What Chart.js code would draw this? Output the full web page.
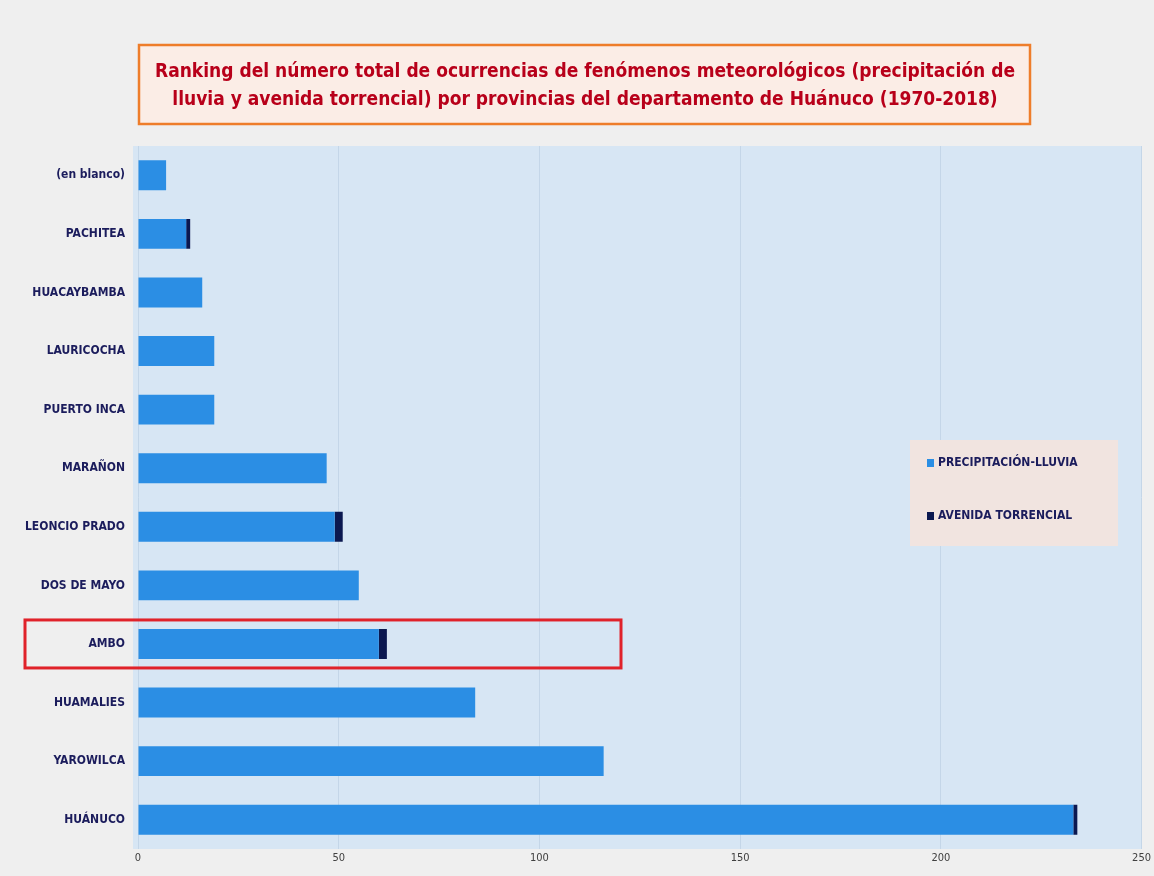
<!DOCTYPE html>
<html>
<head>
<meta charset="utf-8">
<script src="https://cdn.jsdelivr.net/npm/chart.js@4.4.0/dist/chart.umd.min.js"></script>
<style>
  html, body { margin: 0; padding: 0; background: #efefef; }
  #wrap { width: 1154px; height: 876px; }
</style>
</head>
<body>
<div id="wrap"><canvas id="ranking"></canvas></div>
<script>
// Provincias (de arriba hacia abajo) y número de ocurrencias por fenómeno
const provincias = ['(en blanco)', 'PACHITEA', 'HUACAYBAMBA', 'LAURICOCHA', 'PUERTO INCA', 'MARAÑON',
  'LEONCIO PRADO', 'DOS DE MAYO', 'AMBO', 'HUAMALIES', 'YAROWILCA', 'HUÁNUCO'];
const precipitacion = [7, 12, 16, 19, 19, 47, 49, 55, 60, 84, 116, 233];
const avenida = [0, 1, 0, 0, 0, 0, 2, 0, 2, 0, 0, 1];
const xTicks = [0, 50, 100, 150, 200, 250];
const titulo = ['Ranking del número total de ocurrencias de fenómenos meteorológicos (precipitación de',
  'lluvia y avenida torrencial) por provincias del departamento de Huánuco (1970-2018)'];
const resaltada = 'AMBO';

const NARROW = "'Liberation Sans Narrow', 'DejaVu Sans Condensed', Arial, sans-serif";

// fondo del área de trazado, título en recuadro, leyenda y marco de la fila resaltada
const decoracion = {
  id: 'decoracion',
  beforeDraw(chart) {
    const { ctx, chartArea: a } = chart;
    ctx.save();
    ctx.fillStyle = '#d7e6f4';
    ctx.fillRect(a.left - 5, a.top, a.right - a.left + 5, a.bottom - a.top);
    ctx.restore();
  },
  afterDraw(chart) {
    const { ctx } = chart;
    ctx.save();
    // título
    ctx.fillStyle = '#fbede6';
    ctx.fillRect(139, 45, 891, 79);
    ctx.strokeStyle = '#ee7d2a';
    ctx.lineWidth = 2.5;
    ctx.strokeRect(139, 45, 891, 79);
    ctx.fillStyle = '#b8001a';
    ctx.font = 'bold 19px ' + NARROW;
    ctx.textAlign = 'center';
    ctx.textBaseline = 'middle';
    ctx.fillText(titulo[0], 585, 72);
    ctx.fillText(titulo[1], 585, 100);

    // leyenda
    ctx.fillStyle = '#f1e4e0';
    ctx.fillRect(910, 440, 208, 106);
    ctx.font = 'bold 12px ' + NARROW;
    ctx.textAlign = 'left';
    chart.data.datasets.forEach((ds, i) => {
      const y = 463 + i * 53;
      ctx.fillStyle = ds.backgroundColor;
      ctx.fillRect(927, y - 4, 7, 8);
      ctx.fillStyle = '#1b1c5c';
      ctx.fillText(ds.label, 938, y);
    });

    // fila resaltada
    const y = chart.scales.y.getPixelForValue(provincias.indexOf(resaltada));
    ctx.strokeStyle = '#e0222a';
    ctx.lineWidth = 3;
    ctx.strokeRect(25, y - 24, 596, 48);
    ctx.restore();
  }
};

const ctx = document.getElementById('ranking').getContext('2d');
new Chart(ctx, {
  type: 'bar',
  data: {
    labels: provincias,
    datasets: [{
      label: 'PRECIPITACIÓN-LLUVIA',
      data: precipitacion,
      backgroundColor: '#2b8ee4',
      barPercentage: 0.51,
      categoryPercentage: 1
    }, {
      label: 'AVENIDA TORRENCIAL',
      data: avenida,
      backgroundColor: '#0b1850',
      barPercentage: 0.51,
      categoryPercentage: 1
    }]
  },
  options: {
    indexAxis: 'y',
    responsive: true,
    maintainAspectRatio: false,
    animation: false,
    layout: { padding: { top: 146, right: 11, bottom: 0, left: 0 } },
    plugins: {
      legend: { display: false },
      title: { display: false },
      tooltip: { enabled: false }
    },
    scales: {
      x: {
        stacked: true,
        min: 0,
        max: 250,
        afterBuildTicks: s => { s.ticks = xTicks.map(v => ({ value: v })); },
        afterFit: s => { s.height = 27; },
        border: { display: false },
        grid: { color: '#c4d6e8', lineWidth: 1, drawTicks: false },
        ticks: { color: '#404040', padding: 3, font: { size: 11, family: NARROW } }
      },
      y: {
        stacked: true,
        afterFit: s => { s.width = 138; },
        border: { display: false },
        grid: { display: false },
        ticks: { color: '#1b1c5c', padding: 5, font: { size: 12, weight: 'bold', family: NARROW } }
      }
    }
  },
  plugins: [decoracion]
});
</script>
</body>
</html>
